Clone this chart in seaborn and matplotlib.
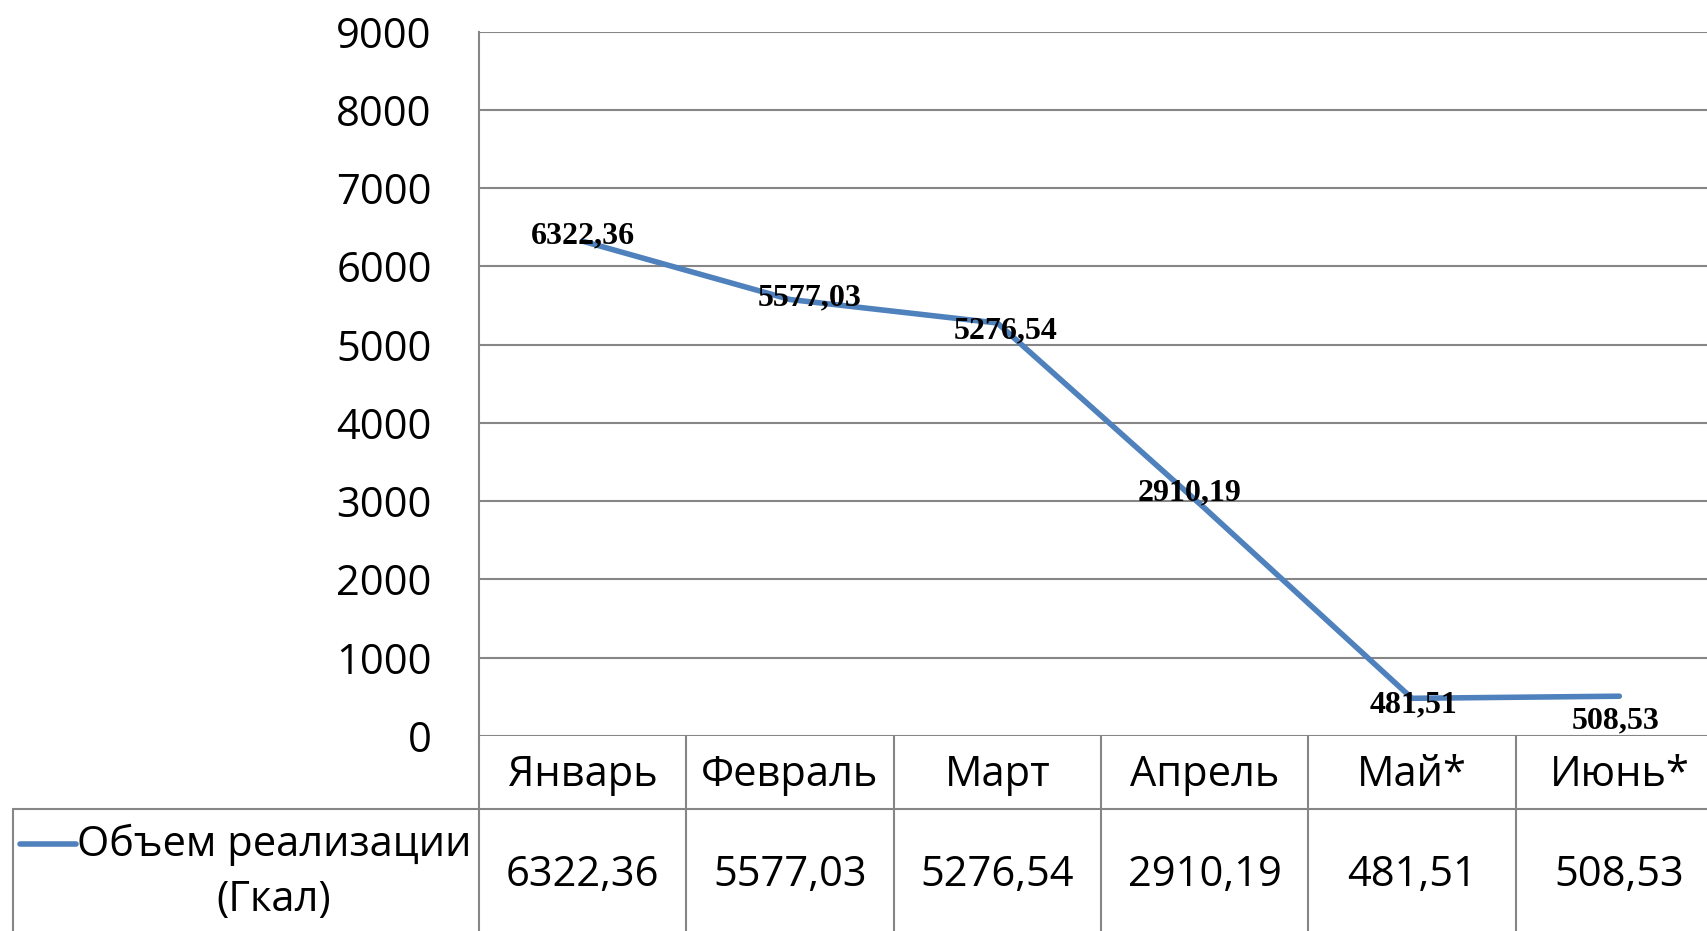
import numpy as np
import pandas as pd
import seaborn as sns
import matplotlib.pyplot as plt
from matplotlib.lines import Line2D

# data
months = ['Январь', 'Февраль', 'Март', 'Апрель', 'Май*', 'Июнь*']
volume = [6322.36, 5577.03, 5276.54, 2910.19, 481.51, 508.53]
value_text = ['6322,36', '5577,03', '5276,54', '2910,19', '481,51', '508,53']
series_name = 'Объем реализации\n(Гкал)'

# label nudges in points (Excel placed them a bit irregularly)
label_dx = [0, 14, 6, -11, 1, -3]
label_dy = [4, 1, -6, 11, -5, -18]

sns.set_style('white')
plt.rcParams['font.family'] = ['Open Sans', 'DejaVu Sans']
plt.rcParams['text.color'] = 'black'
plt.rcParams['ytick.color'] = 'black'

line_color = '#4F81BD'
grid_color = '#868686'
fs = 30

df = pd.DataFrame({'month': pd.Categorical(months, categories=months, ordered=True),
                   'volume': volume})

fig = plt.figure(figsize=(17.07, 9.31), dpi=100)
ax = fig.add_axes([479 / 1707, 195 / 931, 1244 / 1707, 704.4 / 931])

sns.lineplot(data=df, x='month', y='volume', color=line_color, linewidth=4,
             sort=False, ax=ax, solid_capstyle='round')

ax.set_xlim(-0.5, 5.5)
ax.set_ylim(0, 9000)
ax.set_yticks(np.arange(0, 9001, 1000))
ax.tick_params(axis='y', length=0, pad=34, labelsize=fs, labelcolor='black')
ax.set_xticks([])
ax.set_xlabel('')
ax.set_ylabel('')
ax.yaxis.grid(True, color=grid_color, linewidth=1.5)
ax.set_axisbelow(True)
for s in ['top', 'right', 'bottom']:
    ax.spines[s].set_visible(False)
ax.spines['left'].set_color(grid_color)
ax.spines['left'].set_linewidth(1.5)

# data labels
for i, (v, t) in enumerate(zip(volume, value_text)):
    ax.annotate(t, (i, v), xytext=(label_dx[i], label_dy[i]), textcoords='offset points',
                ha='center', va='center', fontsize=23, fontweight='bold',
                family='Liberation Serif', color='black')

# data table under the plot
tr = ax.get_xaxis_transform()
row1 = -73 / 704.4
row_bottom = -0.45
col_w = 1244 / 6
leg_left = -0.5 - 466 / col_w

for k in range(len(months) + 1):
    ax.plot([k - 0.5, k - 0.5], [0, row_bottom], transform=tr, color=grid_color,
            lw=1.5, clip_on=False)
ax.plot([leg_left, 5.6], [row1, row1], transform=tr, color=grid_color, lw=1.5, clip_on=False)
ax.plot([leg_left, leg_left], [row1, row_bottom], transform=tr, color=grid_color,
        lw=1.5, clip_on=False)

for i, m in enumerate(months):
    ax.text(i, row1 / 2 - 0.004, m, transform=tr, ha='center', va='center', fontsize=fs)
    ax.text(i, -0.197, value_text[i], transform=tr, ha='center', va='center', fontsize=fs)

# legend cell
fig.text(274 / 1707, 1 - 872 / 931, series_name, ha='center', va='center',
         fontsize=fs, multialignment='center', linespacing=1.4)
fig.add_artist(Line2D([20 / 1707, 76 / 1707], [1 - 844 / 931, 1 - 844 / 931],
                      color=line_color, lw=4, solid_capstyle='round'))

fig.savefig('out.png', dpi=100)
